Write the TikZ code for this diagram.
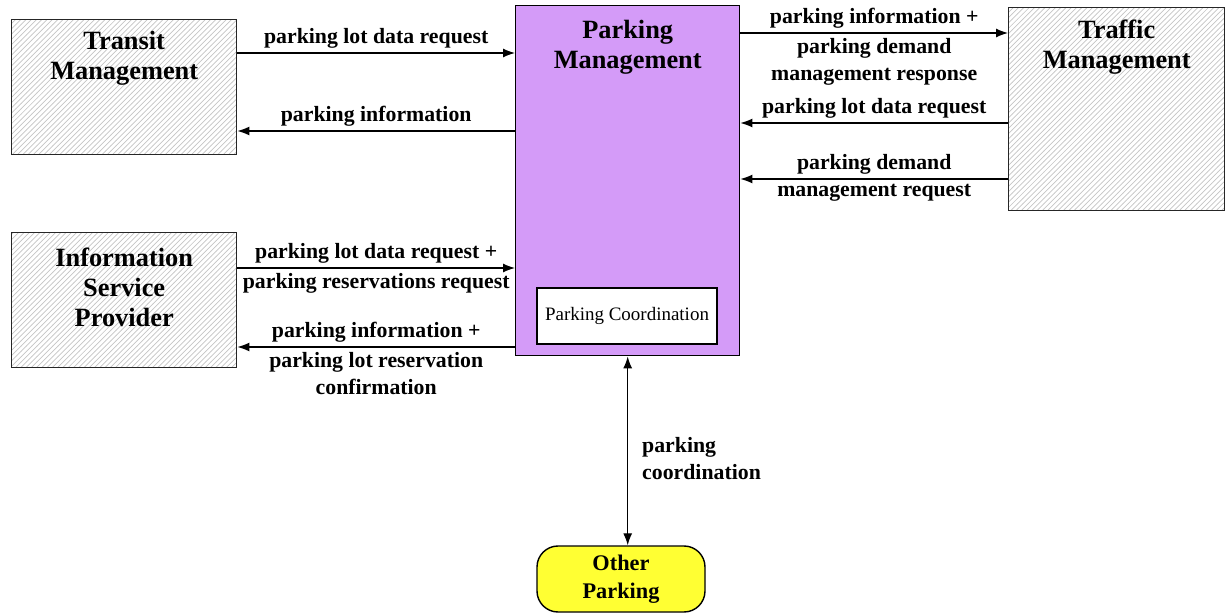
\documentclass[tikz,border=0pt]{standalone}
\usepackage{fontspec}
\setmainfont{Liberation Serif}
\usetikzlibrary{arrows.meta,positioning,patterns}
\definecolor{Lilac}{HTML}{D49BF8}
\definecolor{Lemon}{HTML}{FFFF33}
\definecolor{Hatch}{HTML}{C4C4C4}

\begin{document}
\begin{tikzpicture}[
    ext/.style={draw=black!85,line width=0.8pt,pattern=north east lines,pattern color=Hatch,
      anchor=north west,inner sep=0pt},
    pmbox/.style={draw=black,line width=0.8pt,fill=Lilac,anchor=north west,inner sep=0pt},
    ttl/.style={align=center,font=\fontsize{15}{17}\selectfont\bfseries},
    sub/.style={draw=black,line width=0.7pt,fill=white,minimum width=3.6cm,minimum height=1.12cm,
      font=\fontsize{10.8}{13}\selectfont},
    other/.style={draw=black,line width=0.8pt,fill=Lemon,rounded corners=0.42cm,
      minimum width=3.36cm,minimum height=1.32cm,align=center,
      font=\fontsize{12.7}{16}\selectfont\bfseries},
    lbl/.style={align=center,inner sep=2.5pt,font=\fontsize{12.4}{15.3}\selectfont\bfseries},
    arr/.style={-{Latex[length=2.4mm,width=1.8mm]},line width=0.7pt},
    darr/.style={{Latex[length=2.4mm,width=1.8mm]}-{Latex[length=2.4mm,width=1.8mm]},line width=0.7pt}
  ]
    \useasboundingbox (0,0) rectangle (24.5,-12.3);
    % boxes
    \node[ext,minimum width=4.5cm,minimum height=2.7cm] (transit) at (0.22,-0.38) {};
    \node[ext,minimum width=4.5cm,minimum height=2.7cm] (isp) at (0.22,-4.64) {};
    \node[ext,minimum width=4.32cm,minimum height=4.06cm] (traffic) at (20.16,-0.14) {};
    \node[pmbox,minimum width=4.48cm,minimum height=7cm] (pm) at (10.3,-0.1) {};
    \node[ttl] (transitT) at ([yshift=-0.78cm]transit.north) {Transit\\Management};
    \node[ttl] (ispT) at ([yshift=-1.1cm]isp.north) {Information\\Service\\Provider};
    \node[ttl] (trafficT) at ([yshift=-0.8cm]traffic.north) {Traffic\\Management};
    \node[ttl] (pmT) at ([yshift=-0.84cm]pm.north) {Parking\\Management};
    \node[sub] (pc) at (12.54,-6.32) {Parking Coordination};
    \node[other] (op) at (12.42,-11.58) {Other\\Parking};
    % rows of the flows
    \coordinate (r1) at (0,-1.06);
    \coordinate (r2) at (0,-2.62);
    \coordinate (r3) at (0,-0.66);
    \coordinate (r4) at (0,-2.46);
    \coordinate (r5) at (0,-3.58);
    \coordinate (r6) at (0,-5.36);
    \coordinate (r7) at (0,-6.94);
    % flows
    \draw[arr] (transit.east |- r1) -- node[lbl,above]{parking lot data request} (pm.west |- r1);
    \draw[arr] (pm.west |- r2) -- node[lbl,above]{parking information} (transit.east |- r2);
    \draw[arr] (pm.east |- r3) -- node[lbl,above]{parking information +}
      node[lbl,below]{parking demand\\management response} (traffic.west |- r3);
    \draw[arr] (traffic.west |- r4) -- node[lbl,above]{parking lot data request} (pm.east |- r4);
    \draw[arr] (traffic.west |- r5) -- node[lbl,above]{parking demand}
      node[lbl,below]{management request} (pm.east |- r5);
    \draw[arr] (isp.east |- r6) -- node[lbl,above]{parking lot data request +}
      node[lbl,below]{parking reservations request} (pm.west |- r6);
    \draw[arr] (pm.west |- r7) -- node[lbl,above]{parking information +}
      node[lbl,below]{parking lot reservation\\confirmation} (isp.east |- r7);
    \draw[darr] (pm.south) -- node[lbl,right,align=left,pos=0.54,xshift=0.19cm]{parking\\coordination}
      (pm.south |- op.north);
  \end{tikzpicture}
\end{document}
